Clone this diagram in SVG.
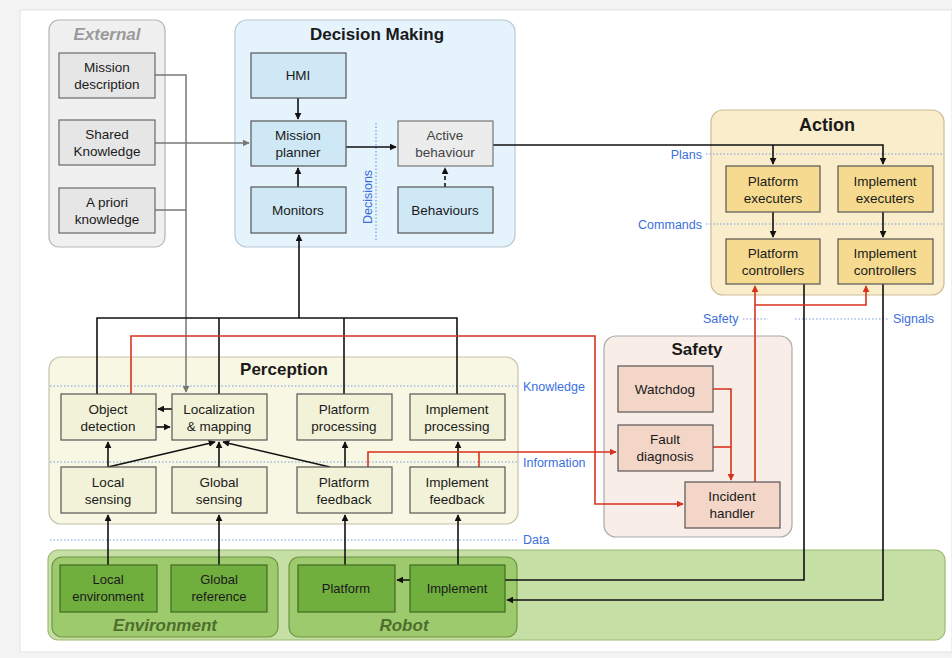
<svg xmlns="http://www.w3.org/2000/svg" width="952" height="658" viewBox="0 0 952 658">
<defs>
<marker id="ab" viewBox="0 0 10 10" refX="9" refY="5" markerWidth="7" markerHeight="7" orient="auto" markerUnits="userSpaceOnUse"><path d="M0,0 L10,5 L0,10 z" fill="#111"/></marker>
<marker id="ag" viewBox="0 0 10 10" refX="9" refY="5" markerWidth="7" markerHeight="7" orient="auto" markerUnits="userSpaceOnUse"><path d="M0,0 L10,5 L0,10 z" fill="#777"/></marker>
<marker id="ar" viewBox="0 0 10 10" refX="9" refY="5" markerWidth="7" markerHeight="7" orient="auto" markerUnits="userSpaceOnUse"><path d="M0,0 L10,5 L0,10 z" fill="#d8321e"/></marker>
</defs>
<style>
text{font-family:"Liberation Sans",Arial,sans-serif;fill:#1a1a1a;}
.t{font-size:13.5px;text-anchor:middle;}
.tn{font-size:13px;text-anchor:middle;}
.h{font-size:17px;font-weight:bold;text-anchor:middle;}
.hi{font-size:17px;font-weight:bold;font-style:italic;text-anchor:middle;}
.lb{font-size:12.5px;fill:#3c6fdc;}
.dot{stroke:#7a9be0;stroke-width:1.2;stroke-dasharray:1.5 2;fill:none;}
.gx{fill:#f0f0f0;stroke:#b5b5b5;stroke-width:1.2;}
.bx{fill:#e6e6e6;stroke:#6a6a6a;stroke-width:1.2;}
.gd{fill:#e5f3fc;stroke:#b8c8d2;stroke-width:1.2;}
.bd{fill:#cfe8f6;stroke:#555;stroke-width:1.2;}
.ga{fill:#faedcc;stroke:#cdbd95;stroke-width:1.2;}
.ba{fill:#f6da8f;stroke:#555;stroke-width:1.2;}
.gp{fill:#f7f7e3;stroke:#c3c3ab;stroke-width:1.2;}
.bp{fill:#f2f2d8;stroke:#555;stroke-width:1.2;}
.gs{fill:#f9ede7;stroke:#aaa;stroke-width:1.2;}
.bs{fill:#f3d6c8;stroke:#555;stroke-width:1.2;}
.ggo{fill:#c6dfa5;stroke:#9cbb78;stroke-width:1.2;}
.ggi{fill:#9dca6c;stroke:#6d9444;stroke-width:1.2;}
.bg{fill:#70ae3e;stroke:#3f6a22;stroke-width:1.2;}
.k{stroke:#111;stroke-width:1.6;fill:none;}
.g{stroke:#777;stroke-width:1.5;fill:none;}
.r{stroke:#d8321e;stroke-width:1.6;fill:none;}
</style>
<rect x="0" y="0" width="952" height="658" fill="#f3f3f3"/>
<rect x="20" y="10" width="932" height="642" fill="#ffffff" stroke="#e2e2e2"/>

<g id="external">
<rect class="gx" x="49" y="20" width="116" height="227" rx="10"/>
<text class="hi" x="107" y="40" style="fill:#9a9a9a">External</text>
</g>
<g id="decision-making">
<rect class="gd" x="235" y="20" width="280" height="227" rx="12"/>
<text class="h" x="377" y="40">Decision Making</text>
</g>
<g id="action">
<rect class="ga" x="711" y="110" width="233" height="185" rx="12"/>
<text class="h" x="827" y="131" style="font-size:18px">Action</text>
</g>
<g id="perception">
<rect class="gp" x="49" y="357" width="469" height="167" rx="12"/>
<text class="h" x="284" y="375">Perception</text>
</g>
<g id="safety">
<rect class="gs" x="604" y="336" width="188" height="201" rx="12"/>
<text class="h" x="697" y="355">Safety</text>
</g>
<g id="world">
<rect class="ggo" x="48" y="550" width="897" height="90" rx="10"/>
<rect class="ggi" x="52" y="557" width="226" height="80" rx="10"/>
<rect class="ggi" x="289" y="557" width="228" height="80" rx="10"/>
<text class="hi" x="165" y="631" style="fill:#4d6e2c">Environment</text>
<text class="hi" x="404" y="631" style="fill:#4d6e2c">Robot</text>
</g>

<g id="layers">
<line class="dot" x1="376" y1="123" x2="376" y2="240"/>
<text class="lb" transform="translate(372,197) rotate(-90)" text-anchor="middle">Decisions</text>
<line class="dot" x1="706" y1="154" x2="944" y2="154"/>
<text class="lb" x="702" y="159" text-anchor="end">Plans</text>
<line class="dot" x1="706" y1="224" x2="944" y2="224"/>
<text class="lb" x="702" y="229" text-anchor="end">Commands</text>
<text class="lb" x="703" y="323">Safety</text>
<line class="dot" x1="743" y1="319" x2="768" y2="319"/>
<line class="dot" x1="795" y1="319" x2="889" y2="319"/>
<text class="lb" x="893" y="323">Signals</text>
<line class="dot" x1="50" y1="386" x2="518" y2="386"/>
<text class="lb" x="523" y="391">Knowledge</text>
<line class="dot" x1="50" y1="462" x2="518" y2="462"/>
<text class="lb" x="523" y="467">Information</text>
<line class="dot" x1="50" y1="540" x2="518" y2="540"/>
<text class="lb" x="523" y="544">Data</text>
</g>

<g id="connectors">
<path class="g" d="M155,75 H186 V392" marker-end="url(#ag)"/>
<path class="g" d="M155,210 H186"/>
<path class="g" d="M155,143 H249" marker-end="url(#ag)"/>
<path class="k" d="M298,98 V119" marker-end="url(#ab)"/>
<path class="k" d="M298,187 V168" marker-end="url(#ab)"/>
<path class="k" d="M346,147 H396" marker-end="url(#ab)"/>
<path class="k" d="M445,187 V168" stroke-dasharray="4 3" marker-end="url(#ab)"/>
<path class="k" d="M493,145 H883 V164" marker-end="url(#ab)"/>
<path class="k" d="M773,145 V164" marker-end="url(#ab)"/>
<path class="k" d="M773,212 V237" marker-end="url(#ab)"/>
<path class="k" d="M883,212 V237" marker-end="url(#ab)"/>
<path class="k" d="M97,394 V318 H457 V394"/>
<path class="k" d="M219,394 V318"/>
<path class="k" d="M344,394 V318"/>
<path class="k" d="M299,318 V235" marker-end="url(#ab)"/>
<path class="k" d="M804,284 V580 H397" marker-end="url(#ab)"/>
<path class="k" d="M883,284 V600 H507" marker-end="url(#ab)"/>
<path class="k" d="M172,409 H158" marker-end="url(#ab)"/>
<path class="k" d="M156,427 H170" marker-end="url(#ab)"/>
<path class="k" d="M108,467 V442" marker-end="url(#ab)"/>
<path class="k" d="M108,467 L215,442" marker-end="url(#ab)"/>
<path class="k" d="M219,467 V442" marker-end="url(#ab)"/>
<path class="k" d="M330,467 L223,442" marker-end="url(#ab)"/>
<path class="k" d="M345,467 V442" marker-end="url(#ab)"/>
<path class="k" d="M458,467 V442" marker-end="url(#ab)"/>
<path class="k" d="M108,565 V515" marker-end="url(#ab)"/>
<path class="k" d="M219,565 V515" marker-end="url(#ab)"/>
<path class="k" d="M345,565 V515" marker-end="url(#ab)"/>
<path class="k" d="M458,565 V515" marker-end="url(#ab)"/>
<path class="r" d="M131,394 V336 H595 V504 H683" marker-end="url(#ar)"/>
<path class="r" d="M368,467 V452 H616" marker-end="url(#ar)"/>
<path class="r" d="M479,467 V452"/>
<path class="r" d="M713,389 H731 V480" marker-end="url(#ar)"/>
<path class="r" d="M713,447 H731"/>
<path class="r" d="M755,482 V286" marker-end="url(#ar)"/>
<path class="r" d="M755,305 H866 V286" marker-end="url(#ar)"/>
</g>

<g id="mission-description"><rect class="bx" x="59" y="53" width="96" height="45"/><text class="t" x="107" y="72">Mission</text><text class="t" x="107" y="89">description</text></g>
<g id="shared-knowledge"><rect class="bx" x="59" y="120" width="96" height="45"/><text class="t" x="107" y="139">Shared</text><text class="t" x="107" y="156">Knowledge</text></g>
<g id="a-priori-knowledge"><rect class="bx" x="59" y="188" width="96" height="45"/><text class="t" x="107" y="207">A priori</text><text class="t" x="107" y="224">knowledge</text></g>

<g id="hmi"><rect class="bd" x="251" y="53" width="95" height="45"/><text class="t" x="298" y="80">HMI</text></g>
<g id="mission-planner"><rect class="bd" x="251" y="121" width="95" height="45"/><text class="t" x="298" y="140">Mission</text><text class="t" x="298" y="157">planner</text></g>
<g id="monitors"><rect class="bd" x="251" y="187" width="95" height="46"/><text class="t" x="298" y="215">Monitors</text></g>
<g id="active-behaviour"><rect x="398" y="121" width="95" height="45" fill="#ececec" stroke="#777" stroke-width="1.2"/><text class="t" x="445" y="140" style="fill:#444">Active</text><text class="t" x="445" y="157" style="fill:#444">behaviour</text></g>
<g id="behaviours"><rect class="bd" x="398" y="187" width="95" height="46"/><text class="t" x="445" y="215">Behaviours</text></g>

<g id="platform-executers"><rect class="ba" x="726" y="166" width="94" height="46"/><text class="t" x="773" y="186">Platform</text><text class="t" x="773" y="203">executers</text></g>
<g id="implement-executers"><rect class="ba" x="838" y="166" width="95" height="46"/><text class="t" x="885" y="186">Implement</text><text class="t" x="885" y="203">executers</text></g>
<g id="platform-controllers"><rect class="ba" x="726" y="239" width="94" height="45"/><text class="t" x="773" y="258">Platform</text><text class="t" x="773" y="275">controllers</text></g>
<g id="implement-controllers"><rect class="ba" x="838" y="239" width="95" height="45"/><text class="t" x="885" y="258">Implement</text><text class="t" x="885" y="275">controllers</text></g>

<g id="object-detection"><rect class="bp" x="61" y="394" width="95" height="46"/><text class="t" x="108" y="414">Object</text><text class="t" x="108" y="431">detection</text></g>
<g id="localization-mapping"><rect class="bp" x="172" y="394" width="95" height="46"/><text class="t" x="219" y="414">Localization</text><text class="t" x="219" y="431">&amp; mapping</text></g>
<g id="platform-processing"><rect class="bp" x="297" y="394" width="95" height="46"/><text class="t" x="344" y="414">Platform</text><text class="t" x="344" y="431">processing</text></g>
<g id="implement-processing"><rect class="bp" x="410" y="394" width="95" height="46"/><text class="t" x="457" y="414">Implement</text><text class="t" x="457" y="431">processing</text></g>
<g id="local-sensing"><rect class="bp" x="61" y="467" width="95" height="46"/><text class="t" x="108" y="487">Local</text><text class="t" x="108" y="504">sensing</text></g>
<g id="global-sensing"><rect class="bp" x="172" y="467" width="95" height="46"/><text class="t" x="219" y="487">Global</text><text class="t" x="219" y="504">sensing</text></g>
<g id="platform-feedback"><rect class="bp" x="297" y="467" width="95" height="46"/><text class="t" x="344" y="487">Platform</text><text class="t" x="344" y="504">feedback</text></g>
<g id="implement-feedback"><rect class="bp" x="410" y="467" width="95" height="46"/><text class="t" x="457" y="487">Implement</text><text class="t" x="457" y="504">feedback</text></g>

<g id="watchdog"><rect class="bs" x="618" y="366" width="95" height="46"/><text class="t" x="665" y="394">Watchdog</text></g>
<g id="fault-diagnosis"><rect class="bs" x="618" y="425" width="95" height="46"/><text class="t" x="665" y="444">Fault</text><text class="t" x="665" y="461">diagnosis</text></g>
<g id="incident-handler"><rect class="bs" x="685" y="482" width="95" height="46"/><text class="t" x="732" y="501">Incident</text><text class="t" x="732" y="518">handler</text></g>

<g id="local-environment"><rect class="bg" x="60" y="565" width="97" height="47"/><text class="tn" x="108" y="584">Local</text><text class="tn" x="108" y="601">environment</text></g>
<g id="global-reference"><rect class="bg" x="171" y="565" width="96" height="47"/><text class="tn" x="219" y="584">Global</text><text class="tn" x="219" y="601">reference</text></g>
<g id="platform"><rect class="bg" x="298" y="565" width="97" height="47"/><text class="tn" x="346" y="593">Platform</text></g>
<g id="implement"><rect class="bg" x="410" y="565" width="95" height="47"/><text class="tn" x="457" y="593">Implement</text></g>
</svg>
